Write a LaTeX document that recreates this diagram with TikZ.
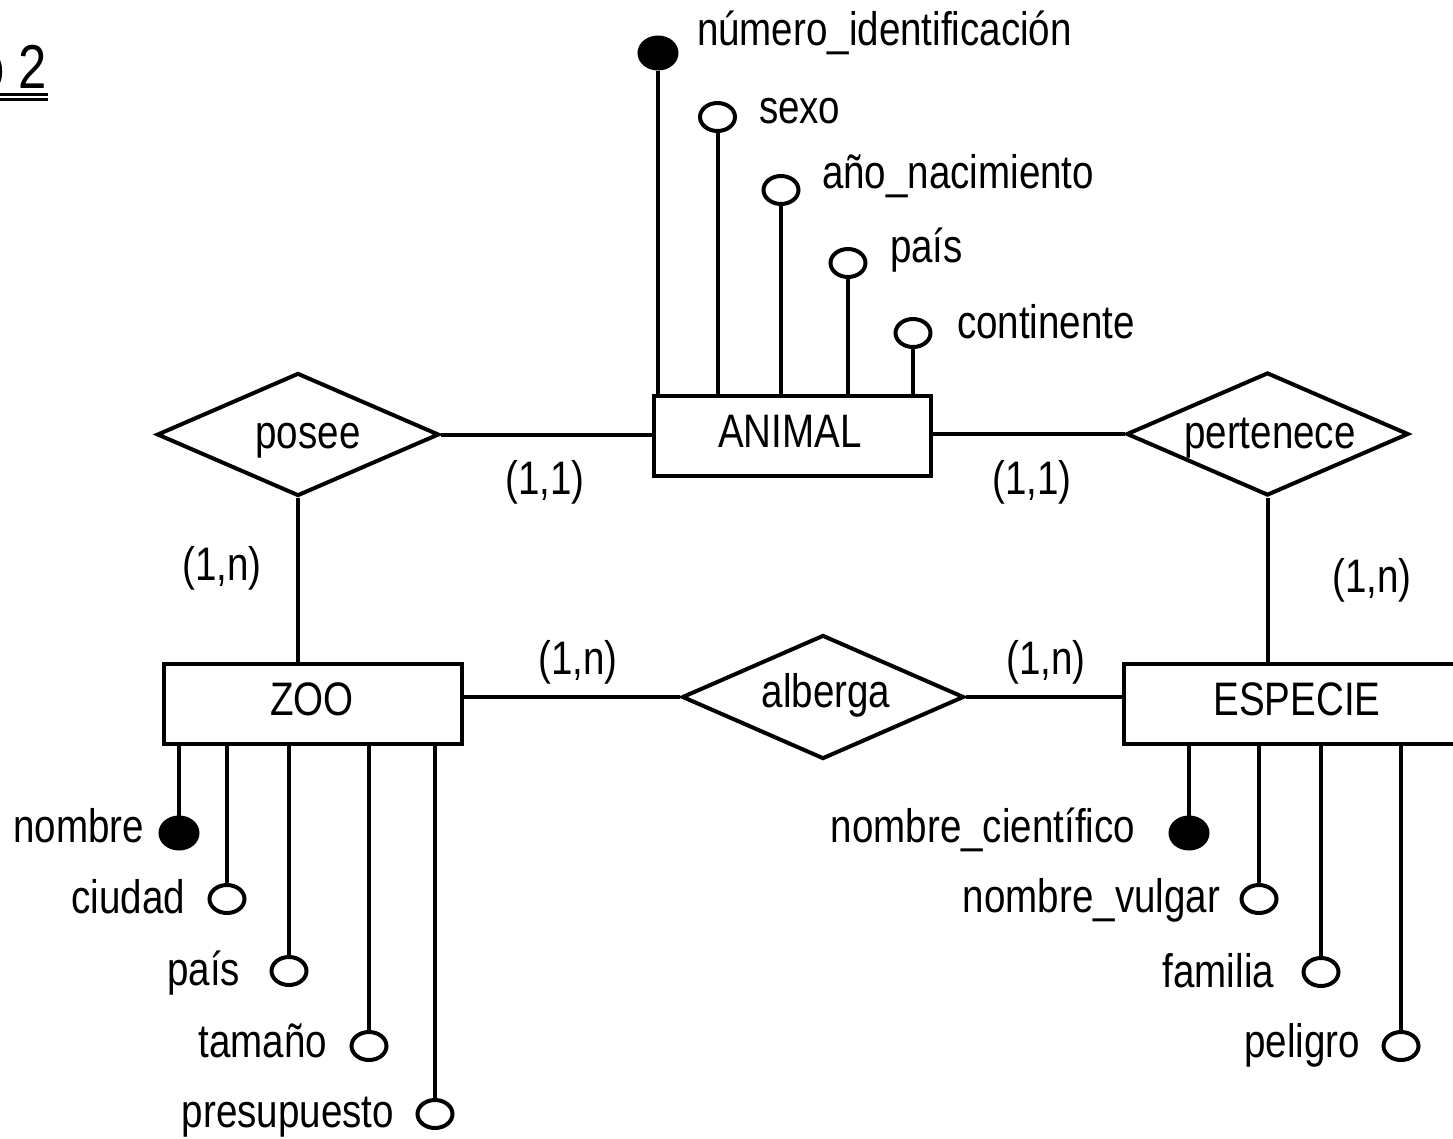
\documentclass[tikz,border=0pt]{standalone}
\usepackage{fontspec}
\setmainfont{Liberation Sans}[FakeStretch=0.82]
\usetikzlibrary{shapes.geometric}
\begin{document}
\begin{tikzpicture}[x=1pt,y=-1pt,line width=4pt,
  txt/.style={inner sep=0pt,font=\fontsize{47}{50}\selectfont},
  entbox/.style={draw,rectangle,inner sep=0pt,minimum height=80},
  relbox/.style={draw,diamond,inner sep=0pt,minimum width=282,minimum height=123},
  attro/.style={draw,ellipse,inner sep=0pt,minimum width=35,minimum height=28},
  attrk/.style={draw,ellipse,fill=black,inner sep=0pt,minimum width=37,minimum height=31}]
\useasboundingbox (0,0) rectangle (1453,1138);
\fill[white] (0,0) rectangle (1453,1138);
% title
\begin{scope}
\clip (0,0) rectangle (1453,1138);
\node[anchor=base east,inner sep=0pt,font=\fontsize{62}{64}\selectfont] (title) at (49,88) {o 2};
\draw[line width=3pt] (0,94) -- (48,94) (0,99) -- (48,99);
% entities
\node[entbox,minimum width=277] (animal) at (792.5,435.5) {};
\node[entbox,minimum width=298] (zoo) at (313,704) {};
\node[entbox,minimum width=346] (especie) at (1297,704) {};
\end{scope}
\node[txt,anchor=base] (tanimal) at (790,447) {ANIMAL};
\node[txt,anchor=base] (tzoo) at (312,715) {ZOO};
\node[txt,anchor=base] (tespecie) at (1297,715) {ESPECIE};
% relationships
\node[relbox] (posee) at (298,434.5) {};
\node[relbox] (pertenece) at (1267.5,434) {};
\node[relbox,minimum height=124] (alberga) at (823,697) {};
\node[txt,anchor=base] (tposee) at (308,448) {posee};
\node[txt,anchor=base] (tpertenece) at (1270,448) {pertenece};
\node[txt,anchor=base] (talberga) at (826,707) {alberga};
% connectors
\draw (posee.east) -- (posee.east -| animal.west);
\draw (animal.east |- pertenece.west) -- (pertenece.west);
\draw (posee.south) -- (posee.south |- zoo.north);
\draw (pertenece.south) -- (pertenece.south |- especie.north);
\draw (alberga.west -| zoo.east) -- (alberga.west);
\draw (alberga.east) -- (alberga.east -| especie.west);
% cardinalities
\node[txt,anchor=base] (c1) at (545,494) {(1,1)};
\node[txt,anchor=base] (c2) at (1032,494) {(1,1)};
\node[txt,anchor=base] (c3) at (222,580) {(1,n)};
\node[txt,anchor=base] (c4) at (1372,592) {(1,n)};
\node[txt,anchor=base] (c5) at (578,674) {(1,n)};
\node[txt,anchor=base] (c6) at (1046,674) {(1,n)};
% ANIMAL attributes
\node[attrk] (a1) at (658,53) {};
\node[attro] (a2) at (717.5,117) {};
\node[attro] (a3) at (781,190) {};
\node[attro] (a4) at (848,263) {};
\node[attro] (a5) at (913,333) {};
\draw (a1.south) -- (a1.south |- animal.north);
\draw (a2.south) -- (a2.south |- animal.north);
\draw (a3.south) -- (a3.south |- animal.north);
\draw (a4.south) -- (a4.south |- animal.north);
\draw (a5.south) -- (a5.south |- animal.north);
\node[txt,anchor=base west] (ta1) at (695,45) {número\_identificación};
\node[txt,anchor=base west] (ta2) at (757,123) {sexo};
\node[txt,anchor=base west] (ta3) at (820,188) {año\_nacimiento};
\node[txt,anchor=base west] (ta4) at (888,262) {país};
\node[txt,anchor=base west] (ta5) at (955,338) {continente};
% ZOO attributes
\node[attrk] (z1) at (179,833) {};
\node[attro] (z2) at (227,899) {};
\node[attro] (z3) at (289,971) {};
\node[attro] (z4) at (369,1046) {};
\node[attro] (z5) at (435,1114) {};
\draw (z1.north |- zoo.south) -- (z1.north);
\draw (z2.north |- zoo.south) -- (z2.north);
\draw (z3.north |- zoo.south) -- (z3.north);
\draw (z4.north |- zoo.south) -- (z4.north);
\draw (z5.north |- zoo.south) -- (z5.north);
\node[txt,anchor=base east] (tz1) at (146,842) {nombre};
\node[txt,anchor=base east] (tz2) at (187,913) {ciudad};
\node[txt,anchor=base east] (tz3) at (242,985) {país};
\node[txt,anchor=base east] (tz4) at (329,1057) {tamaño};
\node[txt,anchor=base east] (tz5) at (396,1127) {presupuesto};
% ESPECIE attributes
\node[attrk] (e1) at (1189,833) {};
\node[attro] (e2) at (1259,899) {};
\node[attro] (e3) at (1321,972) {};
\node[attro] (e4) at (1401,1046) {};
\draw (e1.north |- especie.south) -- (e1.north);
\draw (e2.north |- especie.south) -- (e2.north);
\draw (e3.north |- especie.south) -- (e3.north);
\draw (e4.north |- especie.south) -- (e4.north);
\node[txt,anchor=base east] (te1) at (1137,842) {nombre\_científico};
\node[txt,anchor=base east] (te2) at (1222,912) {nombre\_vulgar};
\node[txt,anchor=base east] (te3) at (1276,987) {familia};
\node[txt,anchor=base east] (te4) at (1362,1057) {peligro};
\end{tikzpicture}
\end{document}
